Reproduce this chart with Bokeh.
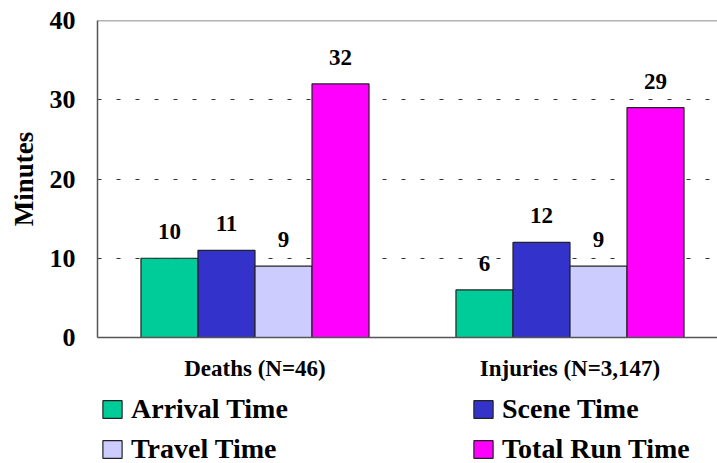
import numpy as np
from bokeh.plotting import figure
from bokeh.layouts import column
from bokeh.models import (ColumnDataSource, Range1d, FixedTicker, LabelSet, Legend,
                          LegendItem, Span)
from bokeh.embed import file_html
from bokeh.resources import INLINE

# ---- data ----
categories = ["Deaths (N=46)", "Injuries (N=3,147)"]
series_names = ["Arrival Time", "Scene Time", "Travel Time", "Total Run Time"]
arrival_time = [10, 6]
scene_time = [11, 12]
travel_time = [9, 9]
total_run_time = [32, 29]
series_values = [arrival_time, scene_time, travel_time, total_run_time]
series_colors = ["#00CC99", "#3333CC", "#CCCCFF", "#FF00FF"]
y_ticks = [0, 10, 20, 30, 40]

FONT = "Liberation Serif"
BAR_W = 0.181

cat_pos = np.arange(len(categories)) + 1.0

p = figure(width=717, height=383,
           min_border_left=97, min_border_right=0, min_border_top=20, min_border_bottom=46,
           x_range=Range1d(0.5, 0.5 + 620 / 315), y_range=Range1d(0, 40),
           output_backend="svg", toolbar_location=None,
           background_fill_color="white", border_fill_color="white")
p.outline_line_color = None

# grid
p.xgrid.visible = False
p.ygrid.ticker = FixedTicker(ticks=[10, 20, 30, 40])
p.ygrid.grid_line_color = "#333333"
p.ygrid.grid_line_dash = "4 15"
p.ygrid.grid_line_width = 1

top_border = Span(location=40, dimension="width", line_color="#666666", line_width=1.5)
p.add_layout(top_border)

# legend strip below the chart; its bars sit outside its visible y range
p2 = figure(width=717, height=80, x_axis_location=None, y_axis_location=None,
            x_range=Range1d(0.5, 0.5 + 620 / 315), y_range=Range1d(1000, 1001), min_border=0,
            output_backend="svg", toolbar_location=None,
            background_fill_color="white", border_fill_color="white")
p2.outline_line_color = None
p2.grid.visible = False

n = len(series_names)
proxies = []
for k, (name, vals, col) in enumerate(zip(series_names, series_values, series_colors)):
    xs = cat_pos + (k - (n - 1) / 2) * BAR_W
    src = ColumnDataSource(dict(x=xs, top=vals, label=[str(v) for v in vals]))
    p.vbar(x="x", top="top", width=BAR_W, bottom=0, source=src,
           fill_color=col, line_color="#222222", line_width=1.2)
    labels = LabelSet(x="x", y="top", text="label", source=src, y_offset=19,
                      text_align="center", text_baseline="alphabetic",
                      text_font=FONT, text_font_style="bold", text_font_size="23px",
                      text_color="black")
    p.add_layout(labels)
    proxies.append(p2.vbar(x="x", top="top", width=BAR_W, bottom=0, source=src,
                           fill_color=col, line_color="#222222", line_width=1.2))

# x axis
p.xaxis.ticker = FixedTicker(ticks=list(cat_pos))
p.xaxis.major_label_overrides = {int(c): lab for c, lab in zip(cat_pos, categories)}
p.xaxis.major_tick_out = 0
p.xaxis.major_tick_in = 0
p.xaxis.minor_tick_out = 0
p.xaxis.minor_tick_in = 0
p.xaxis.major_label_standoff = 18
p.xaxis.major_label_text_font = FONT
p.xaxis.major_label_text_font_style = "bold"
p.xaxis.major_label_text_font_size = "23px"
p.xaxis.major_label_text_color = "black"
p.xaxis.axis_line_color = "#555555"
p.xaxis.axis_line_width = 1.5

# y axis
p.yaxis.ticker = FixedTicker(ticks=y_ticks)
p.yaxis.major_tick_out = 0
p.yaxis.major_tick_in = 0
p.yaxis.minor_tick_out = 0
p.yaxis.minor_tick_in = 0
p.yaxis.major_label_standoff = 22
p.yaxis.major_label_text_font = FONT
p.yaxis.major_label_text_font_style = "bold"
p.yaxis.major_label_text_font_size = "26px"
p.yaxis.major_label_text_color = "black"
p.yaxis.axis_line_color = "#555555"
p.yaxis.axis_line_width = 1.5
p.yaxis.axis_label = "Minutes"
p.yaxis.axis_label_text_font = FONT
p.yaxis.axis_label_text_font_style = "bold"
p.yaxis.axis_label_text_font_size = "27px"
p.yaxis.axis_label_text_color = "black"
p.yaxis.axis_label_standoff = 8

legend = Legend(items=[LegendItem(label=nm, renderers=[r]) for nm, r in zip(series_names, proxies)],
                location=(3, -2), orientation="horizontal", ncols=2,
                glyph_width=24, glyph_height=22, label_standoff=7,
                label_width=332, label_height=32, spacing=8,
                padding=0, margin=0,
                label_text_font=FONT, label_text_font_style="bold",
                label_text_font_size="28px", label_text_color="black",
                border_line_color=None, background_fill_alpha=0)
p2.add_layout(legend, "center")

open("out.html", "w").write(file_html(column(p, p2, spacing=0), INLINE))
